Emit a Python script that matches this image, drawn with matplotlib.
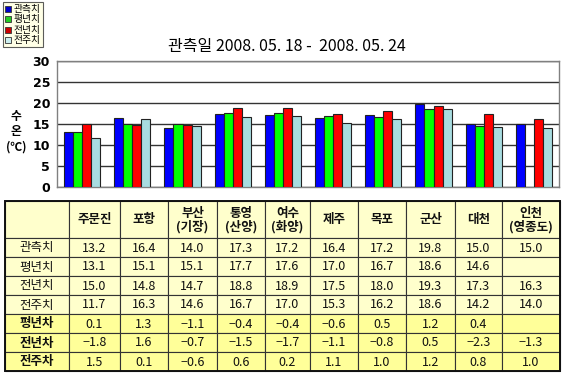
import numpy as np
import matplotlib
matplotlib.use("Agg")
from matplotlib import pyplot as plt
from matplotlib.lines import Line2D
from matplotlib.patches import Rectangle

plt.rcParams["font.family"] = ["Noto Sans CJK KR", "DejaVu Sans"]
plt.rcParams["axes.unicode_minus"] = True

stations = ["주문진", "포항", "부산\n(기장)", "통영\n(산양)", "여수\n(화양)",
            "제주", "목포", "군산", "대천", "인천\n(영종도)"]
observed = [13.2, 16.4, 14.0, 17.3, 17.2, 16.4, 17.2, 19.8, 15.0, 15.0]
normal = [13.1, 15.1, 15.1, 17.7, 17.6, 17.0, 16.7, 18.6, 14.6, np.nan]
last_year = [15.0, 14.8, 14.7, 18.8, 18.9, 17.5, 18.0, 19.3, 17.3, 16.3]
last_week = [11.7, 16.3, 14.6, 16.7, 17.0, 15.3, 16.2, 18.6, 14.2, 14.0]
diff_normal = [0.1, 1.3, -1.1, -0.4, -0.4, -0.6, 0.5, 1.2, 0.4, np.nan]
diff_year = [-1.8, 1.6, -0.7, -1.5, -1.7, -1.1, -0.8, 0.5, -2.3, -1.3]
diff_week = [1.5, 0.1, -0.6, 0.6, 0.2, 1.1, 1.0, 1.2, 0.8, 1.0]

series_names = ["관측치", "평년치", "전년치", "전주치"]
diff_names = ["평년차", "전년차", "전주차"]
colors = ["#0000FF", "#00FF00", "#FF0000", "#A8DCE0"]

W, H = 567, 379
fig = plt.figure(figsize=(W / 100, H / 100), dpi=100)
fig.patch.set_facecolor("white")

# ---- bar chart ----
ax = fig.add_axes([57 / W, 1 - 187 / H, (559 - 57) / W, (187 - 61) / H])
x = np.arange(len(stations))
width = 0.18
for i, (vals, c) in enumerate(zip([observed, normal, last_year, last_week], colors)):
    ax.bar(x + (i - 1.5) * width, vals, width=width, color=c,
           edgecolor="#222222", linewidth=0.8, zorder=3)

ax.set_xlim(-0.5, len(stations) - 0.5)
ax.set_ylim(0, 30)
ax.set_yticks(np.arange(0, 31, 5))
ax.set_xticks([])
ax.yaxis.grid(True, color="#333333", linewidth=1.0, zorder=0)
for s in ax.spines.values():
    s.set_color("#808080")
    s.set_linewidth(1.0)
ax.tick_params(axis="y", length=0, pad=5)
for lab in ax.get_yticklabels():
    lab.set_fontweight("bold")
    lab.set_fontsize(9)
    lab.set_family(["DejaVu Sans"])

fig.text(287 / W, 1 - 47 / H, "관측일 2008. 05. 18 -  2008. 05. 24",
         ha="center", va="center", fontsize=11.5)
fig.text(16 / W, 1 - 124 / H, "수\n온", ha="center", va="center",
         fontsize=8.5, fontweight="bold", linespacing=1.15)
fig.text(16 / W, 1 - 147 / H, "(℃)", ha="center", va="center",
         fontsize=8.5, fontweight="bold")

handles = [Line2D([], [], marker="s", linestyle="none", markersize=4,
                  markerfacecolor=c, markeredgecolor="#333333", markeredgewidth=0.6)
           for c in ["#0000CC", "#22CC22", "#CC0000", "#CCEEEE"]]
leg = fig.legend(handles, series_names, loc="upper left",
                 bbox_to_anchor=(3 / W, 1 - 2 / H), fontsize=7,
                 frameon=True, fancybox=False, facecolor="#FFFFE0",
                 edgecolor="#333333", handlelength=0.6, handletextpad=0.3,
                 labelspacing=0.05, borderpad=0.2, borderaxespad=0)
leg.get_frame().set_linewidth(0.8)

# ---- data table ----
tax = fig.add_axes([0, 0, 1, 1])
tax.set_xlim(0, W)
tax.set_ylim(H, 0)
tax.axis("off")

col_edges = [5, 69, 120, 168, 217, 265, 310, 358, 406, 455, 502, 560]
row_edges = [201, 238, 257, 276, 295, 314, 333, 352, 371]


def fmt(v):
    if np.isnan(v):
        return ""
    return "{:.1f}".format(v).replace("-", "\u2212")


rows = [("", stations)]
for name, vals in zip(series_names, [observed, normal, last_year, last_week]):
    rows.append((name, [fmt(v) for v in vals]))
for name, vals in zip(diff_names, [diff_normal, diff_year, diff_week]):
    rows.append((name, [fmt(v) for v in vals]))

for r, (name, cells) in enumerate(rows):
    y0, y1 = row_edges[r], row_edges[r + 1]
    face = "#FFFF99" if r >= 5 else "#FFFFCC"
    texts = [name] + list(cells)
    for cidx, txt in enumerate(texts):
        x0, x1 = col_edges[cidx], col_edges[cidx + 1]
        tax.add_patch(Rectangle((x0, y0), x1 - x0, y1 - y0, facecolor=face,
                                edgecolor="#333333", linewidth=0.8))
        bold = (r == 0) or (cidx == 0 and r >= 5)
        tax.text((x0 + x1) / 2, (y0 + y1) / 2 + 0.5, txt, ha="center", va="center",
                 fontsize=9, fontweight="bold" if bold else "normal",
                 linespacing=1.05, color="#111111")

tax.add_patch(Rectangle((col_edges[0], row_edges[0]), col_edges[-1] - col_edges[0],
                        row_edges[-1] - row_edges[0], facecolor="none",
                        edgecolor="#111111", linewidth=1.4))

fig.savefig("out.png", dpi=100)
